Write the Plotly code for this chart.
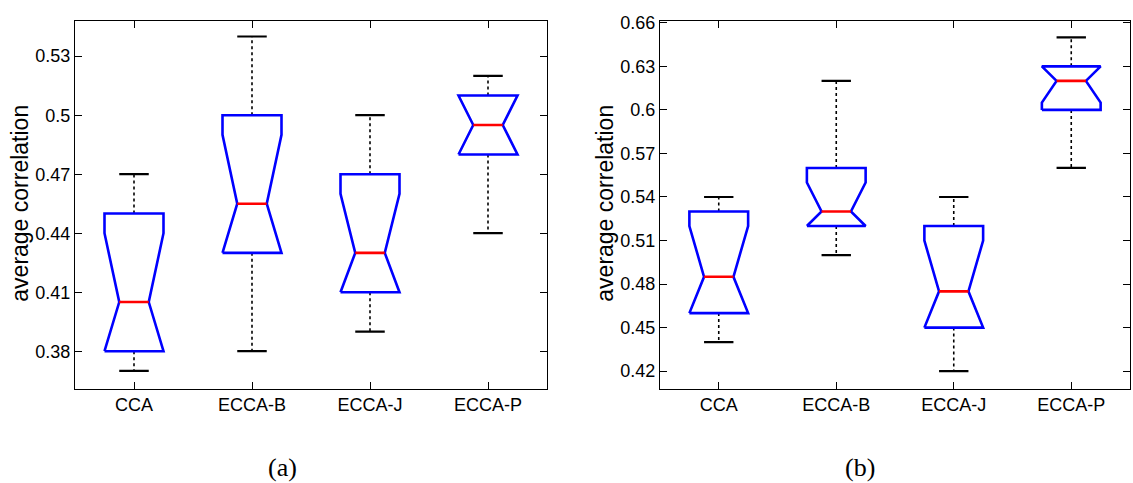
import plotly.graph_objects as go

categories = ["CCA", "ECCA-B", "ECCA-J", "ECCA-P"]

# Panel (a)
a_whisker_lo = [0.37, 0.38, 0.39, 0.44]
a_q1 = [0.38, 0.43, 0.41, 0.48]
a_notch_lo = [0.38, 0.43, 0.41, 0.48]
a_median = [0.405, 0.455, 0.43, 0.495]
a_notch_hi = [0.44, 0.49, 0.46, 0.51]
a_q3 = [0.45, 0.50, 0.47, 0.51]
a_whisker_hi = [0.47, 0.54, 0.50, 0.52]
a_ticks = [0.38, 0.41, 0.44, 0.47, 0.50, 0.53]
a_ticklabels = ["0.38", "0.41", "0.44", "0.47", "0.5", "0.53"]

# Panel (b)
b_whisker_lo = [0.44, 0.50, 0.42, 0.56]
b_q1 = [0.46, 0.52, 0.45, 0.60]
b_notch_lo = [0.46, 0.52, 0.45, 0.605]
b_median = [0.485, 0.53, 0.475, 0.62]
b_notch_hi = [0.52, 0.55, 0.51, 0.63]
b_q3 = [0.53, 0.56, 0.52, 0.63]
b_whisker_hi = [0.54, 0.62, 0.54, 0.65]
b_ticks = [0.42, 0.45, 0.48, 0.51, 0.54, 0.57, 0.60, 0.63, 0.66]
b_ticklabels = ["0.42", "0.45", "0.48", "0.51", "0.54", "0.57", "0.6", "0.63", "0.66"]

BOX_HW = 0.25
NOTCH_HW = 0.125
CAP_HW = 0.125
BLUE = "#0000ff"
RED = "#ff0000"

fig = go.Figure()


def add_panel(xref, yref, wlo, q1, nlo, med, nhi, q3, whi):
    for i, _ in enumerate(categories):
        x = i + 1
        # whiskers (dotted)
        for a, b in ((q3[i], whi[i]), (q1[i], wlo[i])):
            fig.add_trace(go.Scatter(x=[x, x], y=[a, b], mode="lines",
                                     line=dict(color="black", width=1.6, dash="dot"),
                                     xaxis=xref, yaxis=yref, showlegend=False, hoverinfo="skip"))
        # caps
        for v in (whi[i], wlo[i]):
            fig.add_trace(go.Scatter(x=[x - CAP_HW, x + CAP_HW], y=[v, v], mode="lines",
                                     line=dict(color="black", width=2.2),
                                     xaxis=xref, yaxis=yref, showlegend=False, hoverinfo="skip"))
        # notched box outline
        lo = max(nlo[i], q1[i])
        hi = min(nhi[i], q3[i])
        px = [x - BOX_HW, x - BOX_HW, x - NOTCH_HW, x - BOX_HW, x - BOX_HW,
              x + BOX_HW, x + BOX_HW, x + NOTCH_HW, x + BOX_HW, x + BOX_HW, x - BOX_HW]
        py = [q1[i], lo, med[i], hi, q3[i], q3[i], hi, med[i], lo, q1[i], q1[i]]
        fig.add_trace(go.Scatter(x=px, y=py, mode="lines",
                                 line=dict(color=BLUE, width=2.6),
                                 xaxis=xref, yaxis=yref, showlegend=False, hoverinfo="skip"))
        # median
        fig.add_trace(go.Scatter(x=[x - NOTCH_HW, x + NOTCH_HW], y=[med[i], med[i]], mode="lines",
                                 line=dict(color=RED, width=2.6),
                                 xaxis=xref, yaxis=yref, showlegend=False, hoverinfo="skip"))


add_panel("x", "y", a_whisker_lo, a_q1, a_notch_lo, a_median, a_notch_hi, a_q3, a_whisker_hi)
add_panel("x2", "y2", b_whisker_lo, b_q1, b_notch_lo, b_median, b_notch_hi, b_q3, b_whisker_hi)

W, H = 1133, 483
SANS = "Arial"
tickfont = dict(family=SANS, size=18, color="black")
common_x = dict(range=[0.5, 4.5], tickmode="array", tickvals=[1, 2, 3, 4], ticktext=categories,
                showline=True, linecolor="black", linewidth=1, mirror="ticks", ticks="inside",
                ticklen=7, tickcolor="black", showgrid=False, zeroline=False, tickfont=tickfont)
common_y = dict(showline=True, linecolor="black", linewidth=1, mirror="ticks", ticks="inside",
                ticklen=7, tickcolor="black", showgrid=False, zeroline=False, tickfont=tickfont,
                tickmode="array")

ydom = [96 / H, 470 / H]
fig.update_layout(
    width=W, height=H, margin=dict(l=0, r=0, t=0, b=0),
    paper_bgcolor="white", plot_bgcolor="white",
    xaxis=dict(domain=[75 / W, 547 / W], anchor="y", **common_x),
    yaxis=dict(domain=ydom, anchor="x", range=[0.361, 0.548], tickvals=a_ticks,
               ticktext=a_ticklabels, **common_y),
    xaxis2=dict(domain=[660 / W, 1130 / W], anchor="y2", **common_x),
    yaxis2=dict(domain=ydom, anchor="x2", range=[0.408, 0.6614], tickvals=b_ticks,
                ticktext=b_ticklabels, **common_y),
)

labfont = dict(family=SANS, size=23, color="black")
fig.add_annotation(text="average correlation", x=20 / W, y=(H - 199) / H, xref="paper", yref="paper",
                   textangle=-90, showarrow=False, font=labfont, xanchor="center", yanchor="middle")
fig.add_annotation(text="average correlation", x=605 / W, y=(H - 199) / H, xref="paper", yref="paper",
                   textangle=-90, showarrow=False, font=labfont, xanchor="center", yanchor="middle")

capfont = dict(family="Liberation Serif", size=26, color="black")
fig.add_annotation(text="(a)", x=282 / W, y=(H - 467) / H, xref="paper", yref="paper",
                   showarrow=False, font=capfont, xanchor="center", yanchor="middle")
fig.add_annotation(text="(b)", x=860 / W, y=(H - 467) / H, xref="paper", yref="paper",
                   showarrow=False, font=capfont, xanchor="center", yanchor="middle")

fig.write_html("out.html")
